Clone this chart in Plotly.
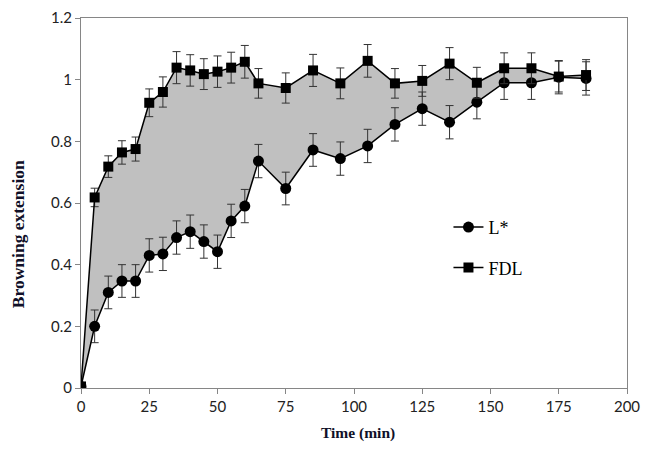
import plotly.graph_objects as go

time_min = [0, 5, 10, 15, 20, 25, 30, 35, 40, 45, 50, 55, 60, 65, 75, 85, 95,
            105, 115, 125, 135, 145, 155, 165, 175, 185]
l_star = [0.005, 0.20, 0.31, 0.347, 0.347, 0.43, 0.435, 0.488, 0.507, 0.475, 0.442, 0.542, 0.59,
          0.736, 0.647, 0.772, 0.744, 0.785, 0.855, 0.906, 0.862, 0.927, 0.99, 0.99, 1.008, 1.004]
l_star_err = [0, 0.053, 0.053, 0.053, 0.053, 0.054, 0.054, 0.054, 0.054, 0.054, 0.054, 0.054, 0.054,
              0.054, 0.053, 0.053, 0.054, 0.054, 0.054, 0.054, 0.054, 0.054, 0.054, 0.054, 0.054, 0.054]
fdl = [0.005, 0.618, 0.718, 0.764, 0.775, 0.925, 0.96, 1.039, 1.03, 1.018, 1.026, 1.039, 1.058,
       0.988, 0.973, 1.03, 0.988, 1.061, 0.988, 0.996, 1.052, 0.99, 1.037, 1.037, 1.01, 1.015]
fdl_err = [0, 0.03, 0.035, 0.038, 0.039, 0.045, 0.049, 0.052, 0.051, 0.05, 0.051, 0.05, 0.053,
           0.048, 0.049, 0.052, 0.05, 0.053, 0.048, 0.05, 0.052, 0.05, 0.05, 0.05, 0.05, 0.05]

x_ticks = [0, 25, 50, 75, 100, 125, 150, 175, 200]
y_ticks = [0, 0.2, 0.4, 0.6, 0.8, 1, 1.2]

fig = go.Figure()
# shaded band between the two curves
fig.add_trace(go.Scatter(x=time_min, y=l_star, mode="lines", line=dict(width=0),
                         showlegend=False, hoverinfo="skip"))
fig.add_trace(go.Scatter(x=time_min, y=fdl, mode="lines", line=dict(width=0),
                         fill="tonexty", fillcolor="#c0c0c0", showlegend=False, hoverinfo="skip"))

err_style = dict(type="data", visible=True, color="#333333", thickness=1, width=4)

fig.add_trace(go.Scatter(
    x=time_min, y=l_star, name="L*", mode="lines+markers",
    line=dict(color="black", width=1.5),
    marker=dict(symbol="circle", size=11, color="black"),
    error_y=dict(array=l_star_err, **err_style),
    legendgroup="a",
))
fig.add_trace(go.Scatter(
    x=time_min, y=fdl, name="FDL", mode="lines+markers",
    line=dict(color="black", width=1.5),
    marker=dict(symbol="square", size=10, color="black"),
    error_y=dict(array=fdl_err, **err_style),
    legendgroup="b",
))

axis_common = dict(
    showline=True, linecolor="#868686", linewidth=1, mirror=True,
    ticks="outside", ticklen=5, tickcolor="#868686",
    showgrid=False, zeroline=False, automargin=False,
    tickfont=dict(family="Lato", size=15, color="#222222"),
)

title_font_color = "#101028"

fig.update_layout(
    width=650, height=458,
    margin=dict(l=73, r=31, t=10, b=78),
    plot_bgcolor="white", paper_bgcolor="white",
    xaxis=dict(range=[0, 200], tickvals=x_ticks, **axis_common),
    yaxis=dict(range=[0, 1.2], tickvals=y_ticks, **axis_common),
    legend=dict(x=0.673, y=0.484, xanchor="left", yanchor="top",
                font=dict(family="Liberation Serif", size=18, color="black"),
                bgcolor="rgba(0,0,0,0)", tracegroupgap=14, traceorder="grouped",
                itemwidth=30),
    showlegend=True,
    annotations=[
        dict(text="<b>Time (min)</b>", xref="paper", yref="paper", x=0.507, y=-0.1216,
             xanchor="center", yanchor="middle", showarrow=False,
             font=dict(family="Liberation Serif", size=15.5, color=title_font_color)),
        dict(text="<b>Browning extension</b>", xref="paper", yref="paper", x=-0.114, y=0.415,
             xanchor="center", yanchor="middle", showarrow=False, textangle=-90,
             font=dict(family="Liberation Serif", size=17.5, color=title_font_color)),
    ],
)

fig.write_html("out.html")
